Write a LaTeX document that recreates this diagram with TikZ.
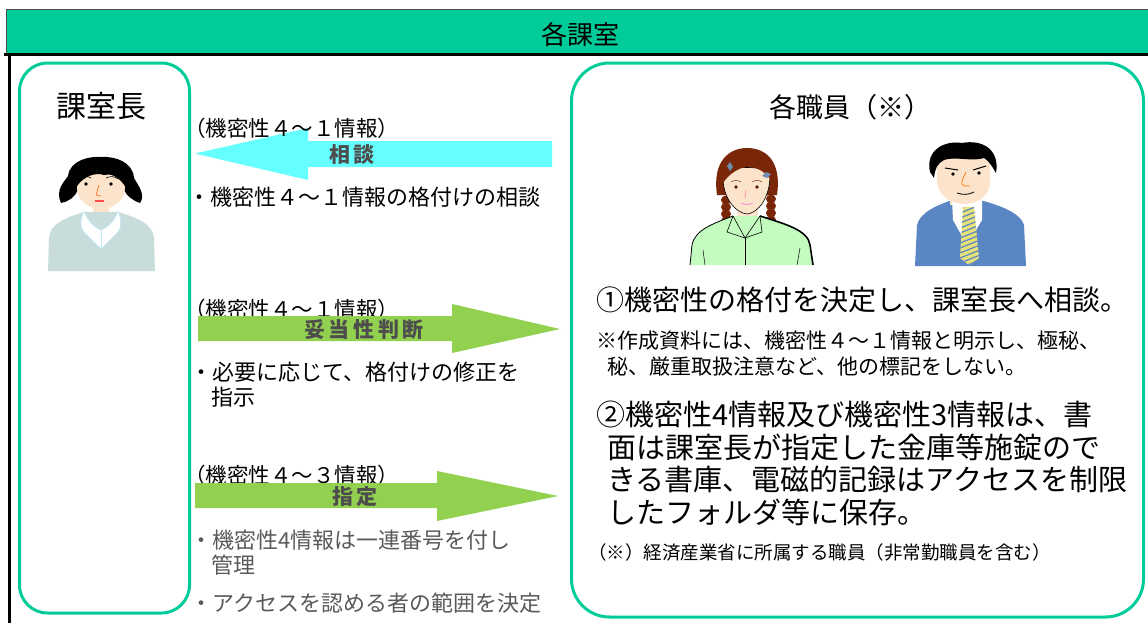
\documentclass[tikz,border=0pt]{standalone}
\usepackage{fontspec}
\setmainfont{Noto Sans CJK JP}
\usepackage{xcolor}
\usepackage{tikz}

\definecolor{frame}{HTML}{00CC99}
\definecolor{consult}{HTML}{66FFFF}
\definecolor{advise}{HTML}{92D050}
\definecolor{labelgray}{HTML}{4D4D4D}
\definecolor{notegray}{HTML}{5A5A5A}
\definecolor{skin}{HTML}{FCE4CC}
\definecolor{sweater}{HTML}{C9DCDC}
\definecolor{blouse}{HTML}{C4FCC0}
\definecolor{suit}{HTML}{5A86C4}
\definecolor{braid}{HTML}{7A2608}
\definecolor{hairpin}{HTML}{6F8FB0}
\definecolor{tie}{HTML}{E8E27A}

\newcommand{\fs}[1]{\fontsize{#1pt}{#1pt}\selectfont}

\tikzset{
	txt/.style={anchor=west, inner sep=0pt},
	roundbox/.style={draw=frame, line width=3pt},
	arrowlabel/.style={inner sep=0pt, text=labelgray, font=\fs{21}\bfseries}
}

\begin{document}
\begin{tikzpicture}[x=1pt, y=-1pt]
				\useasboundingbox (0,0) rectangle (1148,622);
				\fill[white] (0,0) rectangle (1148,622);
				
				%Banner
				\filldraw[fill=frame, draw=black!70, line width=1pt] (6,9.5) rectangle (1152,53);
				\draw[line width=3pt] (4,54.5) -- (1152,54.5);
				\draw[line width=3pt] (9,53) -- (9,625);
				\node[inner sep=0pt, font=\fs{26}] (room) at (580,35) {各課室};
				
				%Boxes
				\draw[roundbox, rounded corners=28pt] (19.5,63) rectangle (189.5,613);
				\draw[roundbox, rounded corners=38pt] (571.5,63) rectangle (1143.5,617);
				\node[inner sep=0pt, font=\fs{30}] (chief) at (101,106) {課室長};
				\node[inner sep=0pt, font=\fs{27}] (staff) at (850,107) {各職員（※）};
				
				%Chief
				\fill[black] (61,203) .. controls (55,190) and (64,182) .. (68,176) .. controls (70,160) and (90,156) .. (101,157) .. controls (115,156) and (133,162) .. (134,178) .. controls (138,185) and (146,195) .. (140,203) .. controls (132,200) and (127,196) .. (124,190) -- (78,190) .. controls (75,197) and (68,202) .. (61,203) -- cycle;
				\fill[skin] (93,200) rectangle (109,216);
				\fill[skin] (101,188) ellipse [x radius=24pt, y radius=21pt];
				\fill[black] (77,186) .. controls (78,168) and (92,163) .. (101,163) .. controls (112,163) and (125,168) .. (125,186) .. controls (118,176) and (110,173) .. (104,175) .. controls (96,172) and (84,176) .. (77,186) -- cycle;
				\fill (86,184) circle (1.8pt);
				\fill (111,184) circle (1.8pt);
				\draw[line width=0.6pt] (80,179) .. controls (84,176) and (88,176) .. (91,178);
				\draw[line width=0.6pt] (106,178) .. controls (110,176) and (114,176) .. (118,179);
				\draw[orange!80!red, line width=0.6pt] (99,185) -- (96,195) -- (101,196);
				\draw[red!70, line width=1.2pt] (95,201) -- (104,201);
				\fill[sweater] (48,271) -- (49,238) .. controls (50,224) and (64,218) .. (84,212) -- (118,212) .. controls (138,218) and (153,224) .. (154,238) -- (155,271) -- cycle;
				\filldraw[fill=white, draw=cyan!25, line width=0.6pt] (84,211) .. controls (88,222) and (95,228) .. (101,230) .. controls (107,228) and (114,222) .. (118,211) .. controls (122,220) and (121,228) .. (118,232) -- (102,248) -- (100,248) -- (84,232) .. controls (80,228) and (80,220) .. (84,211) -- cycle;
				\draw[cyan!25, line width=0.6pt] (101,230) -- (101,248);
				
				%Staff (woman)
				\fill[braid] (717,195) .. controls (712,160) and (730,148) .. (747,148) .. controls (765,148) and (782,160) .. (777,195) -- cycle;
				\foreach \k in {0,...,4} {
					\fill[braid] (726,{200+7*\k}) ellipse [x radius=5pt, y radius=4.5pt];
					\fill[braid] (771,{199+7*\k}) ellipse [x radius=5pt, y radius=4.5pt];
				}
				\fill[skin] (737,200) rectangle (758,222);
				\filldraw[fill=skin, draw=black, line width=0.6pt] (723,175) .. controls (722,198) and (736,213) .. (747,214) .. controls (758,213) and (770,198) .. (770,175) .. controls (770,165) and (725,165) .. (723,175) -- cycle;
				\fill[braid] (720,190) .. controls (715,155) and (740,150) .. (747,151) .. controls (760,150) and (780,158) .. (774,190) .. controls (772,175) and (760,168) .. (748,166) .. controls (738,168) and (724,176) .. (720,190) -- cycle;
				\fill[hairpin] (727,166) -- (730,162) -- (733,167) -- (730,171) -- cycle;
				\fill[hairpin] (762,176) -- (766,172) -- (771,174) -- (767,178) -- cycle;
				\fill[braid!70!black] (736,187) circle (1.8pt);
				\fill[braid!70!black] (757,187) circle (1.8pt);
				\draw[braid, line width=0.5pt] (731,182) .. controls (734,180) and (738,180) .. (741,182);
				\draw[braid, line width=0.5pt] (752,182) .. controls (755,180) and (759,180) .. (762,182);
				\draw[red!35, line width=1pt] (746,190) -- (745,198);
				\draw[magenta!40, line width=1pt] (741,203) .. controls (745,205) and (749,205) .. (753,203);
				\fill[blouse] (690,265) -- (692,245) .. controls (695,230) and (712,224) .. (733,216) -- (760,216) .. controls (785,224) and (808,230) .. (810,245) -- (813,265) -- cycle;
				\draw[line width=0.8pt] (690,265) -- (692,245) .. controls (695,230) and (712,224) .. (733,216);
				\draw[line width=1.6pt] (760,216) .. controls (785,224) and (808,230) .. (810,245) -- (813,265);
				\draw[line width=0.6pt] (733,216) -- (727,232) -- (745,238) -- (762,232) -- (760,216);
				\draw[line width=0.6pt] (733,216) -- (745,238) -- (760,216);
				\draw[line width=0.5pt] (745,238) -- (745,265);
				\draw[line width=0.5pt] (703,250) -- (705,265);
				\draw[line width=0.5pt] (800,248) -- (797,265);
				
				%Staff (man)
				\fill[suit] (915,266) -- (917,225) .. controls (920,212) and (938,205) .. (952,200) -- (980,200) .. controls (998,205) and (1020,212) .. (1024,225) -- (1026,266) -- cycle;
				\fill[skin] (950,190) rectangle (980,205);
				\fill[white] (952,200) -- (982,200) -- (982,220) -- (967,245) -- (953,220) -- cycle;
				\begin{scope}
					\clip (963,207) -- (974,207) -- (979,258) -- (969,265) -- (960,258) -- cycle;
					\fill[tie] (955,200) rectangle (985,270);
					\foreach \s in {0,...,14}
						\draw[suit, line width=1.2pt] (955,{205+5*\s}) -- (985,{193+5*\s});
				\end{scope}
				\fill[skin] (937,158) -- (937,183) .. controls (939,197) and (953,204) .. (964,204) .. controls (977,204) and (990,196) .. (990,182) -- (990,158) -- cycle;
				\fill[black] (930,172) .. controls (925,150) and (945,140) .. (962,143) .. controls (983,139) and (1000,150) .. (996,173) .. controls (992,166) and (988,160) .. (984,158) .. controls (972,162) and (955,156) .. (944,160) .. controls (938,163) and (935,168) .. (934,178) -- cycle;
				\fill (953,174) circle (1.8pt);
				\fill (979,173) circle (1.8pt);
				\draw[line width=1pt] (945,168) -- (958,170);
				\draw[line width=1pt] (973,170) -- (986,166);
				\draw[orange!90!red, line width=0.7pt] (966,172) .. controls (962,180) and (960,184) .. (964,186) -- (970,186);
				\draw[line width=0.8pt] (957,193) .. controls (963,195) and (968,195) .. (974,192);
				
				%Consult arrow
				\fill[consult] (552,141) -- (308,141) -- (308,128) -- (195,153.5) -- (308,180) -- (308,167) -- (552,167) -- cycle;
				\node[txt, font=\fs{21.5}] (scope1) at (184,128) {（機密性４～１情報）};
				\node[arrowlabel] (consultlabel) at (352,155) {相\,談};
				\node[txt, font=\fs{22}] (consultnote) at (188,197) {・機密性４～１情報の格付けの相談};
				
				%Review arrow
				\node[txt, font=\fs{21.5}] (scope2) at (184,309) {（機密性４～１情報）};
				\fill[advise] (198,316) -- (452,316) -- (452,304) -- (560,329) -- (452,353) -- (452,341) -- (198,341) -- cycle;
				\node[arrowlabel] (reviewlabel) at (364,330) {妥\,当\,性\,判\,断};
				\node[txt, font=\fs{22}] (reviewnote1) at (190,372) {・必要に応じて、格付けの修正を};
				\node[txt, font=\fs{22}] (reviewnote2) at (211,397) {指示};
				
				%Assign arrow
				\node[txt, font=\fs{21.5}] (scope3) at (184,475) {（機密性４～３情報）};
				\fill[advise] (195,483) -- (437,483) -- (437,471) -- (558,496) -- (437,521) -- (437,508) -- (195,508) -- cycle;
				\node[arrowlabel] (assignlabel) at (355,497) {指\,定};
				\node[txt, font=\fs{22}, text=notegray] (assignnote1) at (190,540) {・機密性4情報は一連番号を付し};
				\node[txt, font=\fs{22}, text=notegray] (assignnote2) at (211,565) {管理};
				\node[txt, font=\fs{22}, text=notegray] (assignnote3) at (190,603) {・アクセスを認める者の範囲を決定};
				
				%Duties
				\node[txt, font=\fs{28}] (duty1) at (596,300) {①機密性の格付を決定し、課室長へ相談。};
				\node[txt, font=\fs{21}] (mark1) at (596,341) {※作成資料には、機密性４～１情報と明示し、極秘、};
				\node[txt, font=\fs{21}] (mark2) at (607,367) {秘、厳重取扱注意など、他の標記をしない。};
				\node[txt, font=\fs{29}] (duty2a) at (596,414) {②機密性4情報及び機密性3情報は、書};
				\node[txt, font=\fs{29}] (duty2b) at (607,447) {面は課室長が指定した金庫等施錠ので};
				\node[txt, font=\fs{29}] (duty2c) at (607,479) {きる書庫、電磁的記録はアクセスを制限};
				\node[txt, font=\fs{29}] (duty2d) at (607,512) {したフォルダ等に保存。};
				\node[txt, font=\fs{18.5}] (footnote) at (588,552) {（※）経済産業省に所属する職員（非常勤職員を含む）};
			\end{tikzpicture}
\end{document}
